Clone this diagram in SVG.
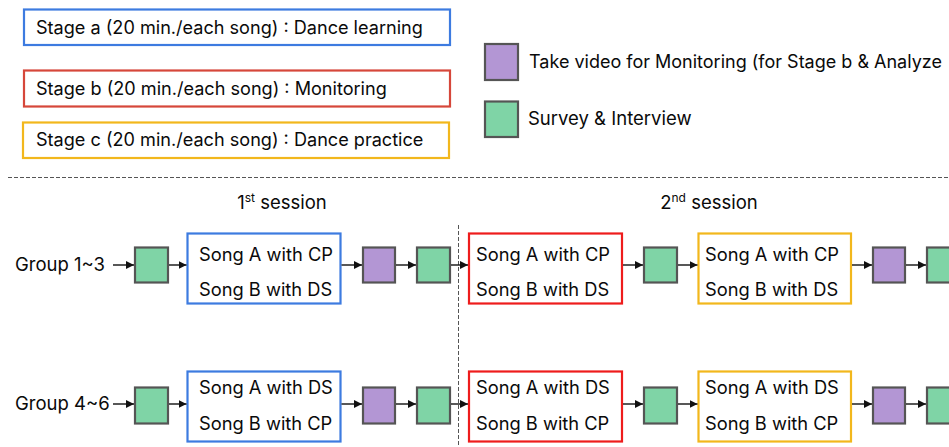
<svg xmlns="http://www.w3.org/2000/svg" width="949" height="447" viewBox="0 0 949 447">
<defs>
<marker id="arr" viewBox="0 0 10 10" refX="10" refY="5" markerWidth="8" markerHeight="8" markerUnits="userSpaceOnUse" orient="auto"><path d="M0,0 L10,5 L0,10 z" fill="#111"/></marker>
<style>
text{font-family:Inter,"Noto Sans","Liberation Sans",sans-serif;fill:#0a0a0a}
.lg{font-size:18.5px}
.st{font-size:18.1px}
.sg{font-size:18.3px}
.box{fill:#fff;stroke-width:2.2}
.blue{stroke:#3d7be0}
.red{stroke:#ee1c1c}
.redl{stroke:#d6473a}
.yel{stroke:#f2b71c}
.sq{stroke:#555;stroke-width:2.2}
.gr{fill:#7fd4a6}
.pu{fill:#b396d4}
.c{stroke:#111;stroke-width:1.4;fill:none;marker-end:url(#arr)}
.dash{stroke:#555;stroke-width:1;stroke-dasharray:4 2;fill:none}
</style>
</defs>
<rect width="949" height="447" fill="#fff"/>
<g id="legend-a"><rect class="box blue" x="24" y="9.5" width="426" height="35.5"/><text class="st" x="36" y="33.5">Stage a (20 min./each song) : Dance learning</text></g>
<g id="legend-b"><rect class="box redl" x="24" y="70.5" width="426" height="36"/><text class="st" x="36" y="94.5">Stage b (20 min./each song) : Monitoring</text></g>
<g id="legend-c"><rect class="box yel" x="23" y="122.5" width="426" height="35.5"/><text class="st" x="36" y="146">Stage c (20 min./each song) : Dance practice</text></g>
<g id="legend-video"><rect class="sq pu" x="485" y="44" width="33" height="36"/><text font-size="18" x="529" y="67.5">Take video for Monitoring (for Stage b &amp; Analyze</text></g>
<g id="legend-survey"><rect class="sq gr" x="485" y="101.5" width="33" height="35.5"/><text class="lg" x="528" y="125">Survey &amp; Interview</text></g>
<g id="dividers">
<line class="dash" x1="8" y1="177.5" x2="949" y2="177.5"/>
<line class="dash" x1="458.5" y1="225" x2="458.5" y2="447"/>
</g>
<g id="session1"><text class="lg" x="282" y="209" text-anchor="middle">1<tspan font-size="12" dy="-7">st</tspan><tspan dy="7"> session</tspan></text></g>
<g id="session2"><text class="lg" x="709" y="209" text-anchor="middle">2<tspan font-size="12" dy="-7">nd</tspan><tspan dy="7"> session</tspan></text></g>

<g id="group13"><text class="lg" x="15" y="271">Group 1~3</text></g>
<g id="r1-s1"><rect class="sq gr" x="135" y="247.5" width="33" height="35"/></g>
<g id="r1-a"><rect class="box blue" x="187.5" y="233.5" width="153" height="70"/><text class="sg" x="199" y="260.5">Song A with CP</text><text class="sg" x="199" y="296">Song B with DS</text></g>
<g id="r1-v1"><rect class="sq pu" x="363" y="247.5" width="32" height="35"/></g>
<g id="r1-s2"><rect class="sq gr" x="417" y="247.5" width="33" height="35"/></g>
<g id="r1-b"><rect class="box red" x="469" y="233.5" width="153" height="70"/><text class="sg" x="476" y="260.5">Song A with CP</text><text class="sg" x="476" y="296">Song B with DS</text></g>
<g id="r1-s3"><rect class="sq gr" x="644" y="247.5" width="33" height="35"/></g>
<g id="r1-c"><rect class="box yel" x="698.5" y="233.5" width="152.5" height="70"/><text class="sg" x="705" y="260.5">Song A with CP</text><text class="sg" x="705" y="296">Song B with DS</text></g>
<g id="r1-v2"><rect class="sq pu" x="873" y="247.5" width="32" height="35"/></g>
<g id="r1-s4"><rect class="sq gr" x="927" y="247.5" width="33" height="35"/></g>

<g id="group46"><text class="lg" x="15" y="410">Group 4~6</text></g>
<g id="r2-s1"><rect class="sq gr" x="135" y="387.5" width="33" height="36"/></g>
<g id="r2-a"><rect class="box blue" x="187.5" y="371.5" width="153" height="70"/><text class="sg" x="199" y="394">Song A with DS</text><text class="sg" x="199" y="429.5">Song B with CP</text></g>
<g id="r2-v1"><rect class="sq pu" x="363" y="387.5" width="32" height="36"/></g>
<g id="r2-s2"><rect class="sq gr" x="417" y="387.5" width="33" height="36"/></g>
<g id="r2-b"><rect class="box red" x="469" y="371.5" width="153" height="70"/><text class="sg" x="476" y="394">Song A with DS</text><text class="sg" x="476" y="429.5">Song B with CP</text></g>
<g id="r2-s3"><rect class="sq gr" x="644" y="387.5" width="33" height="36"/></g>
<g id="r2-c"><rect class="box yel" x="698.5" y="371.5" width="152.5" height="70"/><text class="sg" x="705" y="394">Song A with DS</text><text class="sg" x="705" y="429.5">Song B with CP</text></g>
<g id="r2-v2"><rect class="sq pu" x="873" y="387.5" width="32" height="36"/></g>
<g id="r2-s4"><rect class="sq gr" x="927" y="387.5" width="33" height="36"/></g>

<g id="connectors">
<line class="c" x1="113" y1="265" x2="134" y2="265"/>
<line class="c" x1="169" y1="265" x2="186.5" y2="265"/>
<line class="c" x1="341.5" y1="265" x2="362" y2="265"/>
<line class="c" x1="396" y1="265" x2="416" y2="265"/>
<line class="c" x1="451" y1="265" x2="468" y2="265"/>
<line class="c" x1="623" y1="265" x2="643" y2="265"/>
<line class="c" x1="678" y1="265" x2="697.5" y2="265"/>
<line class="c" x1="852" y1="265" x2="872" y2="265"/>
<line class="c" x1="906" y1="265" x2="926" y2="265"/>
<line class="c" x1="113" y1="404" x2="134" y2="404"/>
<line class="c" x1="169" y1="404" x2="186.5" y2="404"/>
<line class="c" x1="341.5" y1="404" x2="362" y2="404"/>
<line class="c" x1="396" y1="404" x2="416" y2="404"/>
<line class="c" x1="451" y1="404" x2="468" y2="404"/>
<line class="c" x1="623" y1="404" x2="643" y2="404"/>
<line class="c" x1="678" y1="404" x2="697.5" y2="404"/>
<line class="c" x1="852" y1="404" x2="872" y2="404"/>
<line class="c" x1="906" y1="404" x2="926" y2="404"/>
</g>
</svg>
